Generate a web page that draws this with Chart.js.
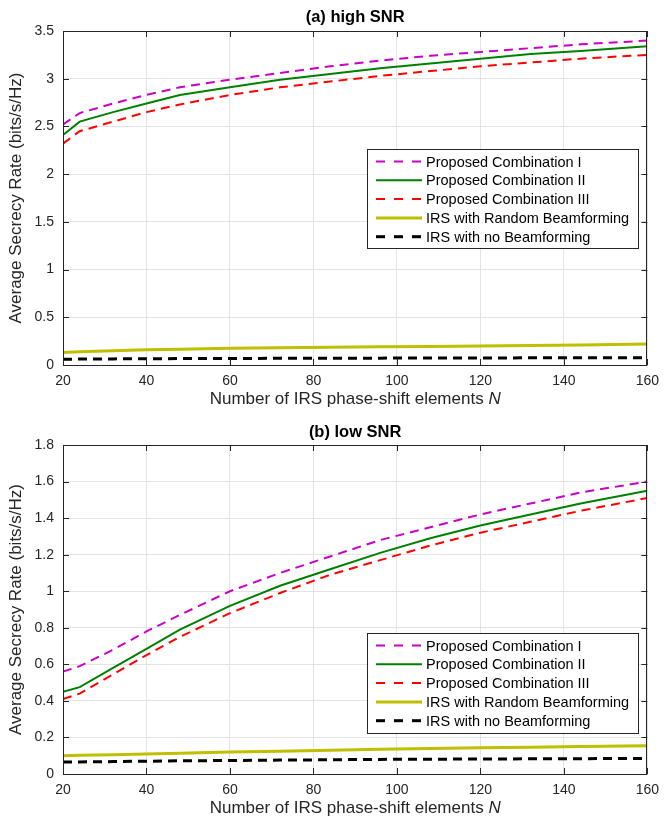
<!DOCTYPE html>
<html>
<head>
<meta charset="utf-8">
<script src="https://cdn.jsdelivr.net/npm/chart.js@4"></script>
<style>
  body { margin: 0; background: #fff; }
  .panel { position: relative; width: 667px; }
</style>
</head>
<body>
<div class="panel" style="height:410px"><canvas id="chart-high"></canvas></div>
<div class="panel" style="height:409px"><canvas id="chart-low"></canvas></div>
<script>
// number of IRS elements N
const nElements = [20, 24, 32, 40, 48, 60, 72, 84, 96, 108, 120, 132, 144, 160];

const seriesNames = [
  "Proposed Combination I",
  "Proposed Combination II",
  "Proposed Combination III",
  "IRS with Random Beamforming",
  "IRS with no Beamforming",
];

// (a) high SNR
const highComb1 = [2.52, 2.64, 2.74, 2.83, 2.91, 2.99, 3.06, 3.13, 3.19, 3.24, 3.28, 3.32, 3.36, 3.40];
const highComb2 = [2.41, 2.55, 2.65, 2.74, 2.83, 2.91, 2.99, 3.05, 3.11, 3.16, 3.21, 3.26, 3.29, 3.34];
const highComb3 = [2.32, 2.45, 2.55, 2.65, 2.73, 2.83, 2.91, 2.97, 3.03, 3.08, 3.13, 3.17, 3.21, 3.25];
const highRandom = [0.13, 0.14, 0.15, 0.16, 0.165, 0.175, 0.18, 0.185, 0.19, 0.195, 0.20, 0.205, 0.21, 0.22];
const highNoBf = [0.06, 0.062, 0.064, 0.066, 0.067, 0.068, 0.07, 0.071, 0.072, 0.073, 0.074, 0.075, 0.076, 0.077];

// (b) low SNR
const lowComb1 = [0.56, 0.59, 0.68, 0.78, 0.87, 1.00, 1.10, 1.19, 1.28, 1.35, 1.42, 1.48, 1.54, 1.60];
const lowComb2 = [0.45, 0.475, 0.58, 0.685, 0.79, 0.92, 1.03, 1.12, 1.21, 1.29, 1.36, 1.42, 1.48, 1.55];
const lowComb3 = [0.41, 0.44, 0.545, 0.65, 0.75, 0.88, 0.99, 1.09, 1.17, 1.25, 1.32, 1.38, 1.44, 1.51];
const lowRandom = [0.10, 0.102, 0.106, 0.11, 0.114, 0.12, 0.125, 0.13, 0.135, 0.139, 0.143, 0.147, 0.15, 0.155];
const lowNoBf = [0.065, 0.066, 0.068, 0.07, 0.072, 0.074, 0.076, 0.078, 0.08, 0.081, 0.082, 0.083, 0.084, 0.085];

const xTicks = [20, 40, 60, 80, 100, 120, 140, 160];
const highYTicks = [0, 0.5, 1, 1.5, 2, 2.5, 3, 3.5];
const lowYTicks = [0, 0.2, 0.4, 0.6, 0.8, 1, 1.2, 1.4, 1.6, 1.8];

const FONT = '"Liberation Sans", Arial, Helvetica, sans-serif';
const styles = [
  { color: "#c800c8", width: 2, dash: [9, 6] },
  { color: "#008000", width: 2, dash: [] },
  { color: "#ff0000", width: 2, dash: [9, 6] },
  { color: "#bfbf00", width: 3, dash: [] },
  { color: "#000000", width: 3, dash: [9, 6] },
];

// draws the matlab-like box, inward ticks, titles and the legend
const matlabFrame = {
  id: "matlabFrame",
  afterDraw(chart, args, opts) {
    const { ctx, chartArea: a, scales } = chart;
    ctx.save();
    ctx.strokeStyle = "#262626";
    ctx.lineWidth = 1;
    const tl = 6;
    ctx.beginPath();
    opts.xTicks.forEach(v => {
      const px = Math.round(scales.x.getPixelForValue(v)) + 0.5;
      ctx.moveTo(px, a.bottom); ctx.lineTo(px, a.bottom - tl);
      ctx.moveTo(px, a.top); ctx.lineTo(px, a.top + tl);
    });
    opts.yTicks.forEach(v => {
      const py = Math.round(scales.y.getPixelForValue(v)) + 0.5;
      ctx.moveTo(a.left, py); ctx.lineTo(a.left + tl, py);
      ctx.moveTo(a.right, py); ctx.lineTo(a.right - tl, py);
    });
    ctx.stroke();
    ctx.strokeRect(Math.round(a.left) + 0.5, Math.round(a.top) + 0.5,
      Math.round(a.width) - 1, Math.round(a.height));

    // title
    const cx = (a.left + a.right) / 2;
    ctx.fillStyle = "#000";
    ctx.textAlign = "center";
    ctx.textBaseline = "middle";
    ctx.font = "bold 16.5px " + FONT;
    ctx.fillText(opts.title, cx, opts.titleY);

    // x label with italic N
    ctx.fillStyle = "#262626";
    ctx.font = "17px " + FONT;
    const part1 = "Number of IRS phase-shift elements ";
    const w1 = ctx.measureText(part1).width;
    ctx.font = "italic 17px " + FONT;
    const w2 = ctx.measureText("N").width;
    let x0 = cx - (w1 + w2) / 2;
    ctx.textAlign = "left";
    ctx.font = "17px " + FONT;
    ctx.fillText(part1, x0, opts.xLabelY);
    ctx.font = "italic 17px " + FONT;
    ctx.fillText("N", x0 + w1, opts.xLabelY);

    // y label
    ctx.save();
    ctx.translate(16, (a.top + a.bottom) / 2);
    ctx.rotate(-Math.PI / 2);
    ctx.textAlign = "center";
    ctx.font = "17px " + FONT;
    ctx.fillText("Average Secrecy Rate (bits/s/Hz)", 0, 0);
    ctx.restore();

    // legend
    const L = opts.legend;
    ctx.fillStyle = "#fff";
    ctx.fillRect(L.x, L.y, L.w, L.h);
    ctx.strokeStyle = "#262626";
    ctx.lineWidth = 1;
    ctx.strokeRect(L.x + 0.5, L.y + 0.5, L.w, L.h);
    ctx.font = "14.5px " + FONT;
    ctx.textAlign = "left";
    ctx.textBaseline = "middle";
    chart.data.datasets.forEach((ds, i) => {
      const y = L.y + 12.5 + i * 18.8;
      ctx.strokeStyle = ds.borderColor;
      ctx.lineWidth = ds.borderWidth;
      ctx.setLineDash(ds.borderDash.length ? [9, 9] : []);
      ctx.beginPath();
      ctx.moveTo(L.x + 9, y);
      ctx.lineTo(L.x + 55, y);
      ctx.stroke();
      ctx.setLineDash([]);
      ctx.fillStyle = "#000";
      ctx.fillText(ds.label, L.x + 59, y + 1);
    });
    ctx.restore();
  },
};

function makeDatasets(list) {
  return list.map((vals, i) => ({
    label: seriesNames[i],
    data: nElements.map((n, j) => ({ x: n, y: vals[j] })),
    borderColor: styles[i].color,
    borderWidth: styles[i].width,
    borderDash: styles[i].dash,
    pointRadius: 0,
    tension: 0,
    fill: false,
  }));
}

function chartMaker(canvasId, datasets, yMax, yStep, yTicks, frame) {
  new Chart(document.getElementById(canvasId), {
    type: "line",
    data: { datasets: datasets },
    options: {
      responsive: true,
      maintainAspectRatio: false,
      animation: false,
      events: [],
      layout: { padding: { top: frame.padTop, left: 0, right: 17, bottom: 0 } },
      scales: {
        x: {
          type: "linear",
          min: 20, max: 160,
          afterFit: s => { s.height = 45; },
          afterBuildTicks: s => { s.ticks = xTicks.map(v => ({ value: v })); },
          ticks: { padding: 8, color: "#262626", font: { size: 14, family: FONT } },
          grid: { color: "#e3e3e3", drawTicks: false },
          border: { display: false },
        },
        y: {
          min: 0, max: yMax,
          afterFit: s => { s.width = 63; },
          afterBuildTicks: s => { s.ticks = yTicks.map(v => ({ value: v })); },
          ticks: {
            padding: 9, color: "#262626", font: { size: 14, family: FONT },
            callback: v => String(+v.toFixed(1)),
          },
          grid: { color: "#e3e3e3", drawTicks: false },
          border: { display: false },
        },
      },
      plugins: {
        legend: { display: false },
        tooltip: { enabled: false },
        matlabFrame: {
          title: frame.title, titleY: frame.titleY, xLabelY: frame.xLabelY,
          legend: frame.legend, xTicks: xTicks, yTicks: yTicks,
        },
      },
    },
    plugins: [matlabFrame],
  });
}

chartMaker("chart-high",
  makeDatasets([highComb1, highComb2, highComb3, highRandom, highNoBf]),
  3.5, 0.5, highYTicks,
  { padTop: 31, title: "(a) high SNR", titleY: 17, xLabelY: 399,
    legend: { x: 367, y: 149, w: 271, h: 99 } });

chartMaker("chart-low",
  makeDatasets([lowComb1, lowComb2, lowComb3, lowRandom, lowNoBf]),
  1.8, 0.2, lowYTicks,
  { padTop: 35, title: "(b) low SNR", titleY: 22, xLabelY: 398,
    legend: { x: 367, y: 223, w: 271, h: 100 } });
</script>
</body>
</html>
